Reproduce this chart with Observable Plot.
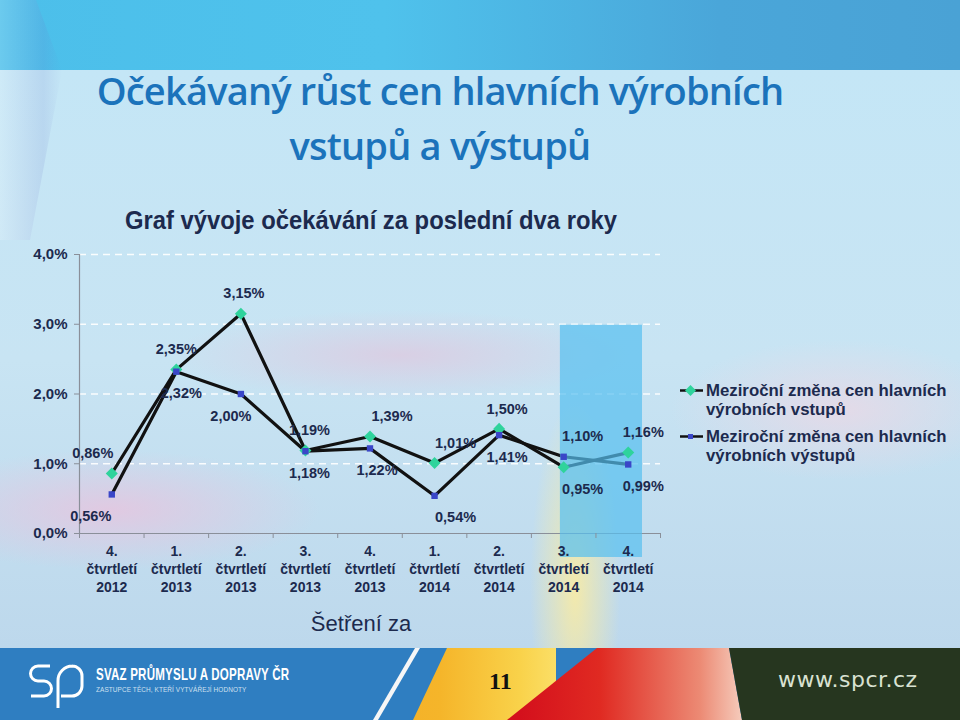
<!DOCTYPE html>
<html><head><meta charset="utf-8">
<script src="https://cdn.jsdelivr.net/npm/d3@7"></script>
<script src="https://cdn.jsdelivr.net/npm/@observablehq/plot@0.6"></script>
<style>
html,body{margin:0;padding:0;width:960px;height:720px;overflow:hidden;}
body{position:relative;font-family:"Liberation Sans",Arial,sans-serif;background:#c7e4f4;}
#topband{position:absolute;left:0;top:0;width:960px;height:70px;
 background:linear-gradient(90deg,#4cbfea 0%,#4fc2ec 40%,#4aa6d9 75%,#4aa2d5 100%);}
#swoosh{position:absolute;left:0;top:0;width:62px;height:240px;
 background:linear-gradient(90deg,rgba(255,255,255,0.5),rgba(110,120,200,0.4) 70%,rgba(255,255,255,0));
 clip-path:polygon(0 0,36px 0,62px 70px,30px 240px,0 240px);opacity:0.35;}
#bg{position:absolute;left:0;top:70px;width:960px;height:578px;
 background:
  radial-gradient(ellipse 45px 190px at 575px 520px, rgba(252,236,160,0.85), rgba(252,236,160,0) 100%),
  radial-gradient(ellipse 210px 60px at 110px 440px, rgba(232,196,222,0.8), rgba(232,196,222,0) 100%),
  radial-gradient(ellipse 230px 45px at 400px 285px, rgba(226,196,220,0.65), rgba(226,196,220,0) 100%),
  radial-gradient(ellipse 170px 70px at 840px 340px, rgba(240,215,228,0.7), rgba(240,215,228,0) 100%),
  linear-gradient(180deg,#c4e6f6 0%,#c8e4f3 50%,#bdd8ec 100%);}
#title{position:absolute;left:0;top:63px;width:880px;text-align:center;color:#1b73bb;
 font-family:"Open Sans","Noto Sans",sans-serif;font-weight:600;font-size:38px;line-height:55px;letter-spacing:-0.8px;}
#subtitle{position:absolute;left:125px;top:205px;color:#1c2a4e;font-weight:bold;
 font-family:"Liberation Sans",Arial,sans-serif;font-size:26px;white-space:nowrap;transform:scaleX(0.915);transform-origin:0 0;}
#chart{position:absolute;left:0;top:240px;}
#legend{position:absolute;left:680px;top:381px;color:#1c2a4e;font-weight:bold;font-size:16.8px;line-height:19px;white-space:nowrap;}
.lg{display:flex;align-items:flex-start;margin-bottom:8px;}
.lg svg{flex:none;margin-top:0px;margin-right:3px;}
#footer{position:absolute;left:0;top:648px;width:960px;height:72px;background:#2f7ec1;overflow:hidden;}
.poly{position:absolute;left:0;top:0;width:960px;height:72px;}
#p11{position:absolute;left:489px;top:20px;font-family:"Liberation Serif","DejaVu Serif",serif;font-weight:bold;font-size:24px;color:#111;}
#www{position:absolute;left:778px;top:19px;font-family:"DejaVu Sans",sans-serif;font-size:22px;color:#d9e2d2;letter-spacing:0.5px;}
#svaz{position:absolute;left:96px;top:17px;color:#fff;font-weight:bold;font-size:17px;font-family:"Liberation Sans",sans-serif;letter-spacing:0.3px;transform:scaleX(0.68);transform-origin:0 0;white-space:nowrap;}
#zast{position:absolute;left:96px;top:38px;color:#cfe0f0;font-size:7px;letter-spacing:0.1px;transform:scaleX(0.92);transform-origin:0 0;white-space:nowrap;}
</style></head><body>
<div id="bg"></div>
<div id="topband"></div>
<div id="swoosh"></div>
<div id="title">Očekávaný růst cen hlavních výrobních<br>vstupů a výstupů</div>
<div id="subtitle">Graf vývoje očekávání za poslední dva roky</div>
<div id="chart"></div>
<div id="legend"></div>
<div id="footer">
 <div class="poly" style="background:#f6f6f6;clip-path:polygon(415px 0,420px 0,378px 72px,373px 72px);"></div>
 <div class="poly" style="background:linear-gradient(90deg,#f08a1a 0px,#f5b52a 440px,#f9d24a 520px,#fbe06a 560px);clip-path:polygon(447px 0,556px 0,556px 72px,413px 72px);"></div>
 <div class="poly" style="background:linear-gradient(90deg,#d4101c 520px,#e02a22 600px,#ec8a74 700px,#f5c8b8 740px);clip-path:polygon(597px 0,729px 0,742px 72px,507px 72px);"></div>
 <div class="poly" style="background:#26361f;clip-path:polygon(729px 0,960px 0,960px 72px,742px 72px);"></div>
 <svg style="position:absolute;left:28px;top:14px" width="60" height="48" viewBox="0 0 60 48">
  <path d="M22 4 H10 A7.5 7.5 0 0 0 10 19 H16 A7.5 7.5 0 0 1 16 34 H3" fill="none" stroke="#fff" stroke-width="3"/>
  <path d="M30 46 V19 A14.5 14.5 0 0 1 44.5 4 H44 A10 10 0 0 1 54 14 V24 A10 10 0 0 1 44 34 H33" fill="none" stroke="#fff" stroke-width="3"/>
 </svg>
 <div id="svaz">SVAZ PRŮMYSLU A DOPRAVY ČR</div>
 <div id="zast">ZASTUPCE TĚCH, KTEŘÍ VYTVÁŘEJÍ HODNOTY</div>
 <div id="p11">11</div>
 <div id="www">www.spcr.cz</div>
</div>
<script>
// ---- data ----
const categories = ["4.\nčtvrtletí\n2012","1.\nčtvrtletí\n2013","2.\nčtvrtletí\n2013","3.\nčtvrtletí\n2013","4.\nčtvrtletí\n2013","1.\nčtvrtletí\n2014","2.\nčtvrtletí\n2014","3.\nčtvrtletí\n2014","4.\nčtvrtletí\n2014"];
const vstupy  = [0.86, 2.35, 3.15, 1.19, 1.39, 1.01, 1.50, 0.95, 1.16];
const vystupy = [0.56, 2.32, 2.00, 1.18, 1.22, 0.54, 1.41, 1.10, 0.99];
const seriesNames = ["Meziroční změna cen hlavních výrobních vstupů","Meziroční změna cen hlavních výrobních výstupů"];
const yTicks = [0, 1, 2, 3, 4];
const highlighted = ["3.\nčtvrtletí\n2014","4.\nčtvrtletí\n2014"];
const xTitle = "Šetření za";

// ---- styles ----
const navy = "#1c2a4e", axisGray = "#8a8f99";
const greenFill = "#2fd39c", blueFill = "#3a46c8";
const dxV = [-19, 0, 3, 4, 22, 21, 8, 19, 15];
const dxW = [-21, 5, -10, 4, 7, 21, 8, 19, 15];

const squatDiamond = {
  draw(ctx, size) {
    const r = Math.sqrt(size / 2);
    ctx.moveTo(0, -r); ctx.lineTo(r, 0); ctx.lineTo(0, r); ctx.lineTo(-r, 0); ctx.closePath();
  }
};

const fmt = v => v.toFixed(2).replace(".", ",") + "%";
const rows = categories.map((c, i) => ({i, cat: c, v: vstupy[i], w: vystupy[i]}));
const idx = categories.map((c, i) => i);
const bounds = d3.range(categories.length + 1).map(k => k - 0.5);
const hIdx = highlighted.map(h => categories.indexOf(h));

const labels = rows.flatMap(r => {
  const vAbove = r.v >= r.w;
  return [
    Plot.text([r], {x: "i", y: "v", text: d => fmt(d.v), dx: dxV[r.i], dy: vAbove ? -20 : 22, fill: navy, fontWeight: "bold", fontSize: 14.5}),
    Plot.text([r], {x: "i", y: "w", text: d => fmt(d.w), dx: dxW[r.i], dy: vAbove ? 22 : -20, fill: navy, fontWeight: "bold", fontSize: 14.5})
  ];
});

const chart = Plot.plot({
  width: 960, height: 400,
  marginLeft: 79, marginRight: 300, marginTop: 14, marginBottom: 107,
  x: {type: "linear", domain: [-0.5, categories.length - 0.5]},
  y: {domain: [yTicks[0], yTicks[yTicks.length - 1]]},
  style: {background: "transparent", fontFamily: "'Liberation Sans', Arial, sans-serif", color: navy, overflow: "visible"},
  marks: [
    Plot.gridY(yTicks.slice(1), {stroke: "#ffffff", strokeOpacity: 0.9, strokeWidth: 1.5, strokeDasharray: "7,5"}),
    Plot.ruleY([yTicks[0]], {stroke: axisGray, strokeWidth: 1.2}),
    Plot.ruleX([bounds[0]], {stroke: axisGray, strokeWidth: 1.2}),
    Plot.line(rows, {x: "i", y: "v", stroke: "#111", strokeWidth: 3.2}),
    Plot.line(rows, {x: "i", y: "w", stroke: "#111", strokeWidth: 3.2}),
    Plot.rect([hIdx], {x1: d => d[0] - 0.5, x2: d => d[d.length - 1] + 0.5, y1: yTicks[0], y2: yTicks[3],
      insetLeft: 29, insetRight: 18, insetTop: 1, insetBottom: -24, fill: "#55bff0", fillOpacity: 0.7}),
    Plot.axisY({ticks: yTicks, tickFormat: d => d.toFixed(1).replace(".", ",") + "%", tickSize: 5, tickPadding: 7, stroke: axisGray, fill: navy, fontWeight: "bold", fontSize: 15, label: null}),
    Plot.axisX({ticks: bounds, tickFormat: () => "", tickSize: 5, stroke: axisGray, label: null}),
    Plot.axisX({ticks: idx, tickFormat: i => categories[i], tickSize: 0, tickPadding: 10, lineHeight: 1.28, fill: navy, fontWeight: "bold", fontSize: 14, label: null}),
    Plot.text([xTitle], {frameAnchor: "bottom", dy: 97, text: d => d, fontSize: 22, fill: navy, dx: -9}),
    ...labels,
    Plot.dot(rows, {x: "i", y: "v", symbol: squatDiamond, r: 4.8, fill: greenFill}),
    Plot.dot(rows, {x: "i", y: "w", symbol: "square", r: 3.6, fill: blueFill})
  ]
});
document.getElementById("chart").appendChild(chart);

// ---- legend ----
const legendItems = [
  {name: seriesNames[0], sym: `<path d="M5 9.5 L10.5 4 L16 9.5 L10.5 15 Z" fill="${greenFill}"/>`},
  {name: seriesNames[1], sym: `<rect x="8" y="7" width="5" height="5" fill="${blueFill}"/>`}
];
const lg = document.getElementById("legend");
legendItems.forEach(it => {
  const words = it.name.split(" ");
  const line1 = words.slice(0, 4).join(" "), line2 = words.slice(4).join(" ");
  const div = document.createElement("div");
  div.className = "lg";
  div.innerHTML = `<svg width="23" height="19"><line x1="0" y1="9.5" x2="23" y2="9.5" stroke="#111" stroke-width="2.5"/>${it.sym}</svg><div>${line1}<br>${line2}</div>`;
  lg.appendChild(div);
});
</script>
</body></html>
